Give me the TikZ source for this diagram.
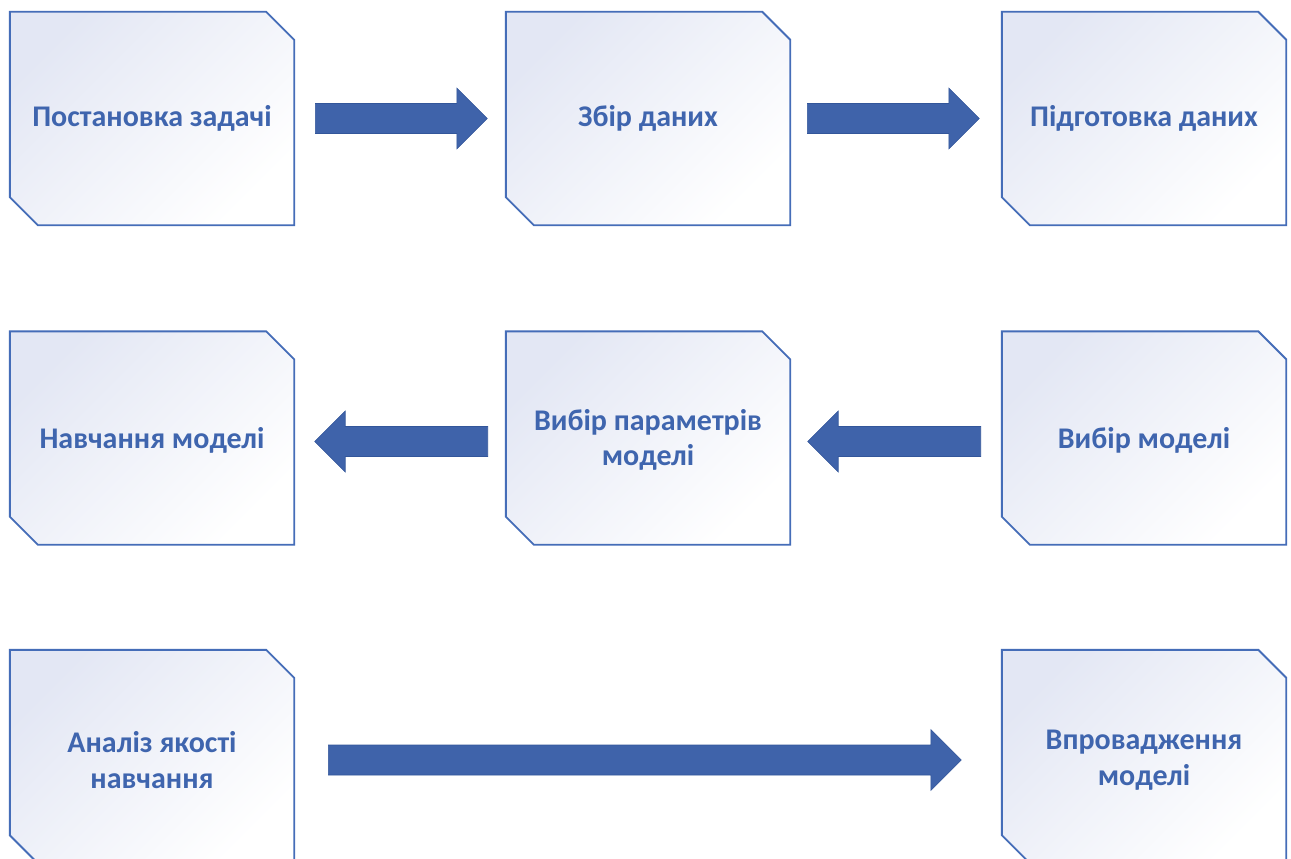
\documentclass[tikz,border=0pt]{standalone}
\usepackage{fontspec}
\setmainfont{Carlito}
\usetikzlibrary{shapes.arrows}
\definecolor{boxline}{HTML}{456DB8}
\definecolor{boxtint}{HTML}{E3E7F4}
\definecolor{labelblue}{HTML}{3F65AE}
\definecolor{arrowfill}{HTML}{3F63AA}
\definecolor{arrowedge}{HTML}{33569A}
\tikzset{
  stage/.style={shape=rectangle, minimum width=284pt, minimum height=213pt,
    inner sep=0pt, text=labelblue,
    font=\fontsize{30}{35.5}\selectfont\bfseries, align=center},
  stageframe/.style={draw=boxline, line width=1.9pt,
    top color=boxtint, bottom color=white, shading angle=45},
  blockarrow/.style={shape=single arrow, fill=arrowfill, draw=arrowedge,
    line width=0.6pt, inner xsep=0pt, inner ysep=14.7pt,
    single arrow head extend=15.5pt, single arrow tip angle=90,
    single arrow head indent=0pt, anchor=tail},
  toright/.style={blockarrow},
  toleft/.style={blockarrow, shape border rotate=180}
}
% chamfered outline (north-east and south-west corners cut) behind a stage node
\newcommand\stageframe[1]{%
  \path[stageframe]
    (#1.north west) -- ([xshift=-28pt]#1.north east) -- ([yshift=-28pt]#1.north east)
    -- (#1.south east) -- ([xshift=28pt]#1.south west) -- ([yshift=28pt]#1.south west)
    -- cycle;}
\begin{document}
\begin{tikzpicture}[x=1pt,y=-1pt]
\useasboundingbox (0,0) rectangle (1291,859);
\fill[white] (0,0) rectangle (1291,859);

% stage node positions (frames are drawn first, labels on top)
\path (152,118.5) coordinate (p1) (648,118.5) coordinate (p2) (1144,118.5) coordinate (p3)
      (152,438) coordinate (p4) (648,438) coordinate (p5) (1144,438) coordinate (p6)
      (152,756.5) coordinate (p7) (1144,756.5) coordinate (p8);

\foreach \i in {1,...,8}{
  \node[stage] (f\i) at (p\i) {};
  \stageframe{f\i}
}

% stage labels
\node[stage] (s1) at (p1) {Постановка задачі};
\node[stage] (s2) at (p2) {Збір даних};
\node[stage] (s3) at (p3) {Підготовка даних};
\node[stage] (s4) at ([yshift=-2pt]p4) {Навчання моделі};
\node[stage] (s5) at ([yshift=-2pt]p5) {Вибір параметрів\\моделі};
\node[stage] (s6) at ([yshift=-2pt]p6) {Вибір моделі};
\node[stage] (s7) at ([yshift=-3.5pt]p7) {Аналіз якості\\навчання};
\node[stage] (s8) at ([yshift=-3.5pt]p8) {Впровадження\\моделі};

% block arrows between stages
\node[toright, minimum height=172pt] (a12) at (315,118.5) {};
\node[toright, minimum height=172pt] (a23) at (807,118.5) {};
\node[toleft, minimum height=173pt] (a65) at (981,441.5) {};
\node[toleft, minimum height=173pt] (a54) at (488,441.5) {};
\node[toright, minimum height=633pt] (a78) at (328,760) {};
\end{tikzpicture}
\end{document}
